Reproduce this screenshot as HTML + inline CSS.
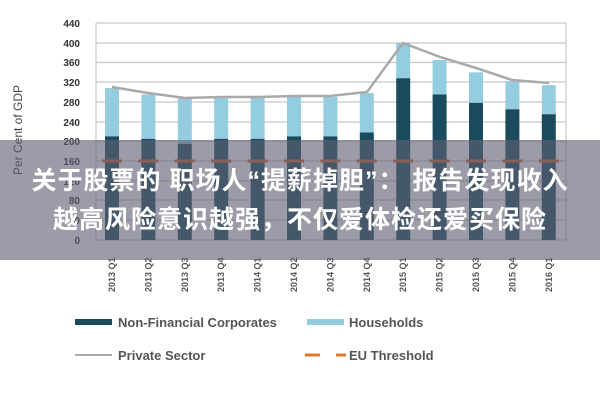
<!DOCTYPE html>
<html><head><meta charset="utf-8"><style>
body{margin:0;width:600px;height:400px;background:#fff;overflow:hidden;position:relative;font-family:"Liberation Sans",sans-serif}
.band{position:absolute;left:0;top:140px;width:600px;height:120px;background:rgba(95,95,115,0.62)}
.t{position:absolute;left:0;width:600px;text-align:center;color:#fff;font-weight:bold;font-size:25px;line-height:30px;font-family:"Liberation Sans","Noto Sans CJK SC",sans-serif;letter-spacing:1px;white-space:nowrap}
</style></head><body>
<svg width="600" height="400" style="position:absolute;left:0;top:0">
<g stroke="#c8c8c8" stroke-width="1.2">
<line x1="96" y1="23" x2="566" y2="23"/><line x1="96" y1="43" x2="566" y2="43"/><line x1="96" y1="62.5" x2="566" y2="62.5"/><line x1="96" y1="82" x2="566" y2="82"/><line x1="96" y1="102" x2="566" y2="102"/><line x1="96" y1="122" x2="566" y2="122"/><line x1="96" y1="141" x2="566" y2="141"/><line x1="96" y1="161" x2="566" y2="161"/><line x1="96" y1="181" x2="566" y2="181"/><line x1="96" y1="200" x2="566" y2="200"/><line x1="96" y1="220" x2="566" y2="220"/><line x1="96" y1="240" x2="566" y2="240"/>
<line x1="96" y1="23" x2="96" y2="240"/><line x1="566" y1="23" x2="566" y2="240"/>
</g>
<g font-size="10" fill="#333" text-anchor="end" font-weight="bold">
<text x="80" y="27">440</text><text x="80" y="47">400</text><text x="80" y="66">360</text><text x="80" y="86">320</text><text x="80" y="106">280</text><text x="80" y="126">240</text><text x="80" y="145">200</text><text x="80" y="165">160</text><text x="80" y="185">120</text><text x="80" y="204">80</text><text x="80" y="224">40</text><text x="80" y="244">0</text>
</g>
<text transform="translate(22,130) rotate(-90)" font-size="12" fill="#444" text-anchor="middle">Per Cent of GDP</text>
<g id="bars"></g>
<polyline fill="none" stroke="#a9a9a9" stroke-width="2.5" points="112,87 148,93 185,98 221,97 258,97 294,96 330,96 367,92 403,43 440,57 476,68 512,80 549,83"/>
<g font-size="9" font-weight="bold" fill="#555" id="xl"></g>
<rect x="75" y="319" width="37" height="6" fill="#1b4a5c"/>
<text x="118" y="327" font-size="13" font-weight="bold" fill="#555">Non-Financial Corporates</text>
<rect x="307" y="319" width="37" height="6" fill="#94cde0"/>
<text x="349" y="327" font-size="13" font-weight="bold" fill="#555">Households</text>
<line x1="75" y1="355" x2="112" y2="355" stroke="#aaa" stroke-width="2"/>
<text x="118" y="360" font-size="13" font-weight="bold" fill="#555">Private Sector</text>
<line x1="305" y1="355" x2="320" y2="355" stroke="#e07a30" stroke-width="3"/>
<line x1="336" y1="355" x2="346" y2="355" stroke="#e07a30" stroke-width="3"/>
<text x="349" y="360" font-size="13" font-weight="bold" fill="#555">EU Threshold</text>
</svg>
<script>
var nfc=[210,205,195,205,205,210,210,218,328,295,278,265,255],hh=[308,295,287,290,290,292,290,298,400,365,340,322,314];
var lab=["2013 Q1","2013 Q2","2013 Q3","2013 Q4","2014 Q1","2014 Q2","2014 Q3","2014 Q4","2015 Q1","2015 Q2","2015 Q3","2015 Q4","2016 Q1"];
var s='',x='',d='';function y(v){return 240-v*0.4932}
for(var i=0;i<13;i++){var c=112+i*36.4;
s+='<rect x="'+(c-7)+'" y="'+y(hh[i])+'" width="14" height="'+(y(nfc[i])-y(hh[i]))+'" fill="#94cde0"/>';
s+='<rect x="'+(c-7)+'" y="'+y(nfc[i])+'" width="14" height="'+(240-y(nfc[i]))+'" fill="#1b4a5c"/>';
d+='<line x1="'+(c-10)+'" y1="161" x2="'+(c+10)+'" y2="161" stroke="#c8642a" stroke-width="3"/>';
x+='<text transform="translate('+(c+3)+',292) rotate(-90)">'+lab[i]+'</text>';}
document.getElementById('bars').innerHTML=s+d;document.getElementById('xl').innerHTML=x;
</script>
<div class="band"></div>
<div class="t" style="top:166px">关于股票的 职场人“提薪掉胆”： 报告发现收入</div>
<div class="t" style="top:205px">越高风险意识越强，不仅爱体检还爱买保险</div>
</body></html>
